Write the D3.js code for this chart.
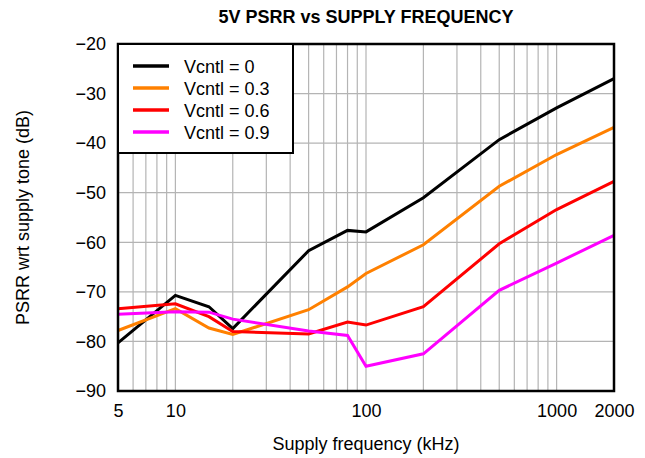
<!DOCTYPE html>
<html>
<head>
<meta charset="utf-8">
<script src="https://cdn.jsdelivr.net/npm/d3@7"></script>
<style>
  html, body { margin: 0; padding: 0; background: #fff; }
  svg { display: block; }
  text { font-family: "Liberation Sans", Arial, sans-serif; fill: #000; }
</style>
</head>
<body>
<svg id="chart" width="645" height="458"></svg>
<script>
// Supply frequencies (kHz) at which PSRR was measured
const freqs = [5, 10, 15, 20, 50, 80, 100, 200, 500, 1000, 2000];

// PSRR (dB) for each control voltage
const vc0  = [-80.3, -70.7, -73.0, -77.4, -61.7, -57.6, -57.9, -51.0, -39.3, -32.9, -27.0];
const vc03 = [-77.8, -73.4, -77.3, -78.6, -73.6, -69.0, -66.3, -60.5, -48.7, -42.3, -36.8];
const vc06 = [-73.4, -72.4, -75.0, -78.0, -78.5, -76.1, -76.7, -73.0, -60.3, -53.4, -47.7];
const vc09 = [-74.5, -74.0, -74.1, -75.5, -77.9, -78.8, -85.0, -82.5, -69.7, -64.2, -58.6];

const seriesNames  = ["Vcntl = 0", "Vcntl = 0.3", "Vcntl = 0.6", "Vcntl = 0.9"];
const seriesColors = ["#000000", "#ff8000", "#ff0000", "#ff00ff"];
const seriesValues = [vc0, vc03, vc06, vc09];

const xTickLabels = [5, 10, 100, 1000, 2000];
const yTickLabels = [-90, -80, -70, -60, -50, -40, -30, -20];

const svg = d3.select("#chart");
const margin = { left: 118, right: 31, top: 44, bottom: 67 };
const W = 645, H = 458;
const x0 = margin.left, x1 = W - margin.right;
const y0 = H - margin.bottom, y1 = margin.top;

const x = d3.scaleLog().domain([5, 2000]).range([x0, x1]);
const y = d3.scaleLinear().domain([-90, -20]).range([y0, y1]);

// grid: vertical lines at every 1-2-...-9 decade step
const gridX = [];
for (let dec = 1; dec <= 1000; dec *= 10) {
  for (let m = 1; m <= 9; m++) {
    const v = m * dec;
    if (v > 5 && v < 2000) gridX.push(v);
  }
}
const grid = svg.append("g");
grid.selectAll("line.gx").data(gridX).join("line")
  .attr("x1", d => x(d)).attr("x2", d => x(d))
  .attr("y1", y0).attr("y2", y1)
  .attr("stroke", "#b4b4b4").attr("stroke-width", 1.2);
grid.selectAll("line.gy").data(yTickLabels.slice(1, -1)).join("line")
  .attr("x1", x0).attr("x2", x1)
  .attr("y1", d => y(d)).attr("y2", d => y(d))
  .attr("stroke", "#b4b4b4").attr("stroke-width", 1.2);

// data lines
const line = d3.line()
  .x((d, i) => x(freqs[i]))
  .y(d => y(d));
svg.append("g").selectAll("path").data(seriesValues).join("path")
  .attr("d", line)
  .attr("fill", "none")
  .attr("stroke", (d, i) => seriesColors[i])
  .attr("stroke-width", 3)
  .attr("stroke-linejoin", "miter");

// frame
svg.append("rect")
  .attr("x", x0).attr("y", y1)
  .attr("width", x1 - x0).attr("height", y0 - y1)
  .attr("fill", "none").attr("stroke", "#000").attr("stroke-width", 2.5);

// axes (labels only, the frame carries the lines)
const xAxis = d3.axisBottom(x).tickValues(xTickLabels).tickFormat(d3.format("d")).tickSize(0).tickPadding(13);
const gx = svg.append("g").attr("transform", `translate(0,${y0})`).call(xAxis);
gx.select(".domain").remove();
gx.selectAll("text").attr("font-size", 18).attr("font-family", "Liberation Sans, Arial, sans-serif");

const yAxis = d3.axisLeft(y).tickValues(yTickLabels).tickFormat(d => "\u2212" + Math.abs(d)).tickSize(0).tickPadding(12);
const gy = svg.append("g").attr("transform", `translate(${x0},0)`).call(yAxis);
gy.select(".domain").remove();
gy.selectAll("text").attr("font-size", 18).attr("font-family", "Liberation Sans, Arial, sans-serif");

// title and axis titles
svg.append("text")
  .attr("x", (x0 + x1) / 2).attr("y", 23)
  .attr("text-anchor", "middle")
  .attr("font-size", 18).attr("font-weight", "bold")
  .text("5V PSRR vs SUPPLY FREQUENCY");

svg.append("text")
  .attr("x", (x0 + x1) / 2).attr("y", 450)
  .attr("text-anchor", "middle")
  .attr("font-size", 18)
  .text("Supply frequency (kHz)");

svg.append("text")
  .attr("transform", `translate(29,${(y0 + y1) / 2}) rotate(-90)`)
  .attr("text-anchor", "middle")
  .attr("font-size", 18)
  .text("PSRR wrt supply tone (dB)");

// legend
const leg = svg.append("g").attr("transform", `translate(${x0},${y1})`);
leg.append("rect")
  .attr("width", 175).attr("height", 109)
  .attr("fill", "#fff").attr("stroke", "#000").attr("stroke-width", 2);
const rows = leg.selectAll("g.row").data(seriesNames).join("g")
  .attr("transform", (d, i) => `translate(0,${22 + i * 22})`);
rows.append("line")
  .attr("x1", 15).attr("x2", 51)
  .attr("stroke", (d, i) => seriesColors[i]).attr("stroke-width", 3.5);
rows.append("text")
  .attr("x", 66).attr("y", 6.5)
  .attr("font-size", 18)
  .text(d => d);
</script>
</body>
</html>
